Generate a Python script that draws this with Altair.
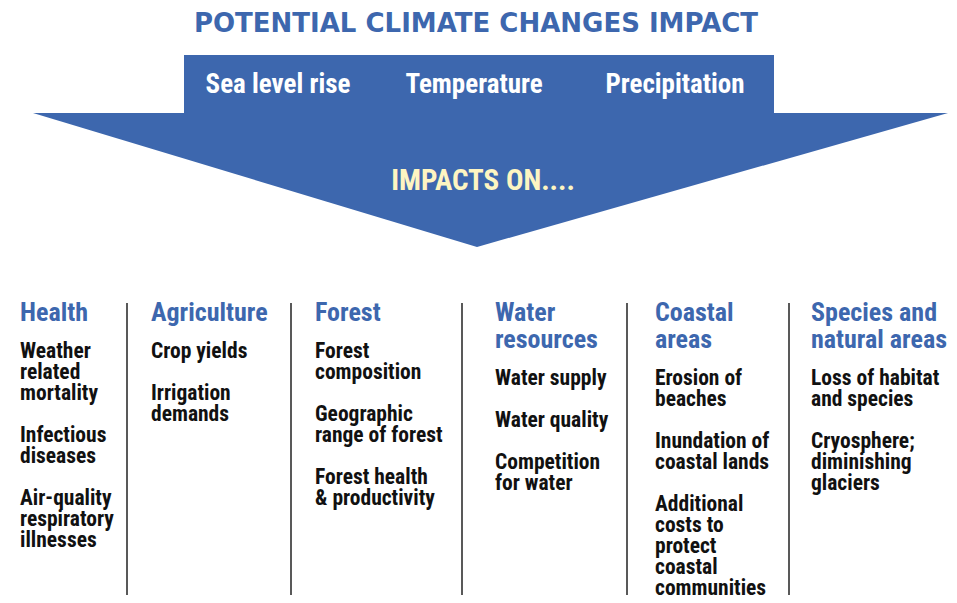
import altair as alt
import pandas as pd

# ---------------- content ----------------
TITLE = "POTENTIAL CLIMATE CHANGES IMPACT"
DRIVERS = ["Sea level rise", "Temperature", "Precipitation"]
IMPACT_LABEL = "IMPACTS ON...."
SECTORS = [
    ["Health"],
    ["Agriculture"],
    ["Forest"],
    ["Water", "resources"],
    ["Coastal", "areas"],
    ["Species and", "natural areas"],
]
IMPACTS = [
    [["Weather", "related", "mortality"], ["Infectious", "diseases"], ["Air-quality", "respiratory", "illnesses"]],
    [["Crop yields"], ["Irrigation", "demands"]],
    [["Forest", "composition"], ["Geographic", "range of forest"], ["Forest health", "& productivity"]],
    [["Water supply"], ["Water quality"], ["Competition", "for water"]],
    [["Erosion of", "beaches"], ["Inundation of", "coastal lands"],
     ["Additional", "costs to", "protect", "coastal", "communities"]],
    [["Loss of habitat", "and species"], ["Cryosphere;", "diminishing", "glaciers"]],
]

# ---------------- layout (screen pixels) ----------------
W, H = 941, 587
X0, Y0 = 8, 8
BLUE = "#3d67ae"
YELLOW = "#fdf5c2"
NARROW = "Roboto Condensed, Open Sans Condensed, DejaVu Sans Condensed, sans-serif"
WIDE = "DejaVu Sans, Liberation Sans, sans-serif"

COL_X = [20, 151, 315, 495, 655, 811]
SEP_X = [127, 291, 462, 627, 789]
SEP_TOP, SEP_BOT = 303, 603
HEAD_Y0, HEAD_LH = 321, 27
ITEM_GAP, ITEM_LH = 37, 21
DRIVER_X = [278, 474, 675]
DRIVER_Y = 93
TITLE_POS = (476, 32)
IMPACT_POS = (483, 190)
BOX = dict(x=184, x2=774, y=55, y2=113)
WING = dict(left=33, right=948, top=113, tip_x=477, tip_y=247)

xs = alt.Scale(domain=[X0, X0 + W], nice=False, zero=False)
ys = alt.Scale(domain=[Y0, Y0 + H], nice=False, zero=False, reverse=True)
X = lambda f: alt.X(f, type="quantitative", scale=xs, axis=None)
Y = lambda f: alt.Y(f, type="quantitative", scale=ys, axis=None)

# arrow
box = alt.Chart(pd.DataFrame([BOX])).mark_rect(color=BLUE).encode(
    x=X("x"), x2="x2", y=Y("y"), y2="y2")

tri_df = pd.DataFrame({
    "x": [WING["left"], WING["tip_x"], WING["right"]],
    "y": [WING["top"]] * 3,
    "y2": [WING["top"], WING["tip_y"], WING["top"]],
})
tri = alt.Chart(tri_df).mark_area(color=BLUE, opacity=1).encode(
    x=X("x"), y=Y("y"), y2="y2")

# texts
title = alt.Chart(pd.DataFrame([{"t": TITLE, "x": TITLE_POS[0], "y": TITLE_POS[1]}])).mark_text(
    font=WIDE, fontWeight="bold", fontSize=26, color=BLUE, align="center", baseline="alphabetic"
).encode(x=X("x"), y=Y("y"), text="t:N")

drv = alt.Chart(pd.DataFrame({"t": DRIVERS, "x": DRIVER_X, "y": [DRIVER_Y] * 3})).mark_text(
    font=NARROW, fontWeight="bold", fontSize=27, color="white", align="center", baseline="alphabetic"
).encode(x=X("x"), y=Y("y"), text="t:N")

imp = alt.Chart(pd.DataFrame([{"t": IMPACT_LABEL, "x": IMPACT_POS[0], "y": IMPACT_POS[1]}])).mark_text(
    font=NARROW, fontWeight="bold", fontSize=29, color=YELLOW, align="center", baseline="alphabetic"
).encode(x=X("x"), y=Y("y"), text="t:N")

head_rows, item_rows = [], []
for ci, (hdr, items) in enumerate(zip(SECTORS, IMPACTS)):
    for li, line in enumerate(hdr):
        head_rows.append({"t": line, "x": COL_X[ci], "y": HEAD_Y0 + li * HEAD_LH})
    y = HEAD_Y0 + (len(hdr) - 1) * HEAD_LH + ITEM_GAP
    for item in items:
        for line in item:
            item_rows.append({"t": line, "x": COL_X[ci], "y": y})
            y += ITEM_LH
        y += ITEM_LH

heads = alt.Chart(pd.DataFrame(head_rows)).mark_text(
    font=NARROW, fontWeight="bold", fontSize=26, color=BLUE, align="left", baseline="alphabetic"
).encode(x=X("x"), y=Y("y"), text="t:N")

itms = alt.Chart(pd.DataFrame(item_rows)).mark_text(
    font=NARROW, fontWeight="bold", fontSize=21.5, color="#111111", align="left", baseline="alphabetic"
).encode(x=X("x"), y=Y("y"), text="t:N")

seps = alt.Chart(pd.DataFrame({"x": SEP_X, "y": [SEP_TOP] * len(SEP_X), "y2": [SEP_BOT] * len(SEP_X)})).mark_rule(
    color="#222222", strokeWidth=1.5
).encode(x=X("x"), y=Y("y"), y2="y2")

chart = alt.layer(box, tri, title, drv, imp, seps, heads, itms).properties(
    width=W, height=H, autosize=alt.AutoSizeParams(type="none"), padding=0
).configure_view(stroke=None)

chart.save("out.html", embed_options={"renderer": "svg", "actions": False})
